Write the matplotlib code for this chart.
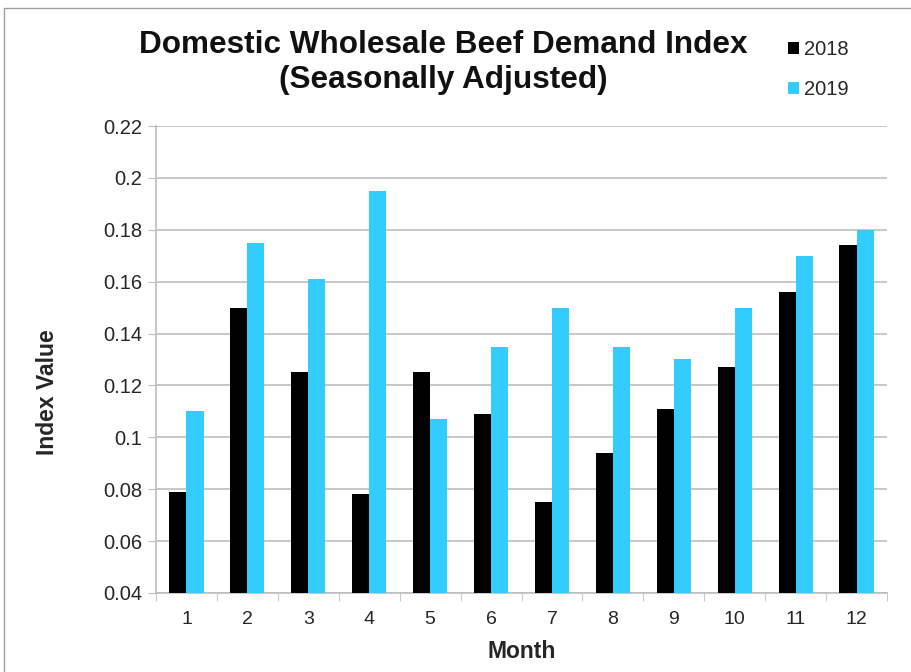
import matplotlib

matplotlib.use("Agg")
import matplotlib.pyplot as plt
import numpy as np
from matplotlib.patches import Rectangle

plt.rcParams["font.family"] = ["Liberation Sans", "DejaVu Sans"]

MONTHS = list(range(1, 13))
V2018 = [0.079, 0.150, 0.125, 0.078, 0.125, 0.109, 0.075, 0.094, 0.111, 0.127, 0.156, 0.174]
V2019 = [0.110, 0.175, 0.161, 0.195, 0.107, 0.135, 0.150, 0.135, 0.130, 0.150, 0.170, 0.180]
YTICKS = [0.04, 0.06, 0.08, 0.1, 0.12, 0.14, 0.16, 0.18, 0.2, 0.22]
YLABELS = ["0.04", "0.06", "0.08", "0.1", "0.12", "0.14", "0.16", "0.18", "0.2", "0.22"]

BLACK, CYAN, GRID, TXT = "#000000", "#33CCFF", "#BEBEBE", "#262626"
W = 0.28
FW, FH = 911, 672

fig = plt.figure(figsize=(FW / 100, FH / 100), dpi=100)
fig.patches.append(Rectangle((4 / FW, -0.01), 1.0, 1 - 8 / FH + 0.01,
                             transform=fig.transFigure, fill=False,
                             edgecolor="#A0A0A0", lw=1.0))
ax = fig.add_axes([156 / FW, 1 - 593 / FH, 731 / FW, 467 / FH])

x = np.array(MONTHS, dtype=float)
ax.bar(x - W / 2, V2018, width=W, color=BLACK, label="2018", zorder=3)
ax.bar(x + W / 2, V2019, width=W, color=CYAN, label="2019", zorder=3)

ax.set_xlim(0.5, 12.5)
ax.set_ylim(0.04, 0.22)
ax.set_yticks(YTICKS)
ax.set_yticklabels(YLABELS)
ax.set_xticks(x)
ax.set_xticklabels([str(m) for m in MONTHS])
ax.set_xticks(np.arange(0.5, 13.0, 1.0), minor=True)
ax.tick_params(axis="x", which="major", length=0, pad=13, labelsize=14,
               labelcolor=TXT)
ax.tick_params(axis="x", which="minor", length=6, color=GRID, direction="out")
ax.tick_params(axis="y", length=6, color=GRID, labelsize=14.5, pad=4,
               labelcolor=TXT)
ax.grid(axis="y", color=GRID, lw=1.2, zorder=0)
for side in ("top", "right"):
    ax.spines[side].set_visible(False)
for side in ("left", "bottom"):
    ax.spines[side].set_color(GRID)
    ax.spines[side].set_linewidth(1.2)

ax.set_xlabel("Month", fontsize=16.5, fontweight="bold", color=TXT)
ax.set_ylabel("Index Value", fontsize=16.5, fontweight="bold", color=TXT)
ax.xaxis.set_label_coords(0.5, -(652 - 593) / 467)
ax.xaxis.label.set_va("center")
ax.yaxis.set_label_coords(-(156 - 48) / 731, (593 - 392) / 467)
ax.yaxis.label.set_va("center")

fig.text(443 / FW, 1 - 45 / FH, "Domestic Wholesale Beef Demand Index",
         ha="center", va="center", fontsize=22.7, fontweight="bold", color="#111111")
fig.text(443 / FW, 1 - 80 / FH, "(Seasonally Adjusted)",
         ha="center", va="center", fontsize=22.7, fontweight="bold", color="#111111")

fig.legend(loc="upper left", bbox_to_anchor=(770 / FW, 1 - 22 / FH),
           frameon=False, fontsize=14.5, handlelength=0.55, handleheight=0.55,
           handletextpad=0.25, labelspacing=1.05, labelcolor=TXT)

fig.savefig("out.png", dpi=100)
